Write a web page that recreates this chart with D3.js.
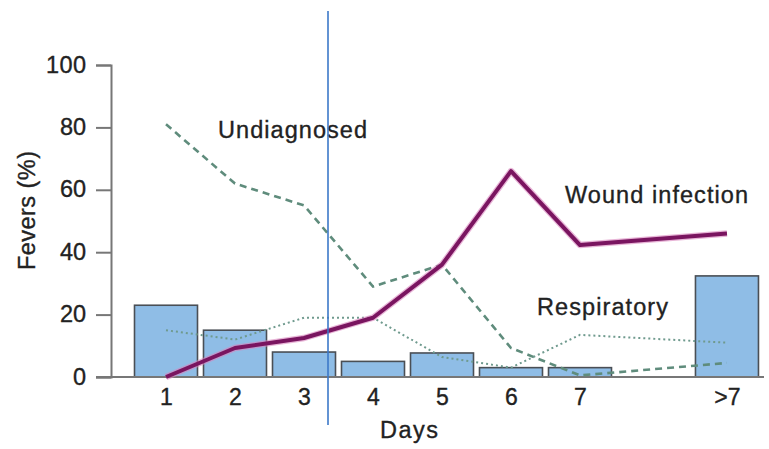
<!DOCTYPE html>
<html><head><meta charset="utf-8">
<script src="https://cdn.jsdelivr.net/npm/d3@7"></script>
<style>body{margin:0;background:#fff}svg{display:block}text{font-family:"Liberation Sans",Arial,sans-serif;fill:#222;stroke:#222;stroke-width:0.35px}</style>
</head><body><svg id="c" width="769" height="449"></svg>
<script>
const categories = ["1","2","3","4","5","6","7",">7"];
const barValues = [23, 15, 8, 5, 7.7, 3, 3, 32.4];
const woundInfection = [0, 9.3, 12.5, 19, 36, 66, 42.3, 46];
const undiagnosed = [81, 62, 55, 29, 36, 9.3, 0.5, 4.5];
const respiratory = [15, 12, 19, 19, 6.4, 3, 13.5, 11];
const yTicks = [0, 20, 40, 60, 80, 100];

const svg = d3.select("#c");
const y = d3.scaleLinear().domain([0, 100]).range([377, 65]);
const x = d3.scaleLinear().domain([1, 7]).range([166, 580]);
const pos = (c, i) => i < 7 ? i + 1 : 9.13;
const bw = 63;
const FONT = "Liberation Sans, Arial, sans-serif";

// bars
svg.append("g").selectAll("rect").data(barValues).join("rect")
  .attr("x", (d, i) => x(pos(categories[i], i)) - bw / 2)
  .attr("y", d => y(d))
  .attr("width", bw)
  .attr("height", d => y(0) - y(d))
  .attr("fill", "#8fbde6")
  .attr("stroke", "#4a4f55")
  .attr("stroke-width", 1.6);

// y axis
const ya = svg.append("g").attr("transform", "translate(111,0)")
  .call(d3.axisLeft(y).tickValues(yTicks).tickSize(15).tickPadding(10));
ya.select(".domain").attr("stroke", "#777").attr("stroke-width", 2);
ya.selectAll(".tick line").attr("stroke", "#777").attr("stroke-width", 2);
ya.selectAll(".tick text").attr("font-size", 23.5).attr("font-family", FONT).attr("fill", "#222").attr("dy", "0.3em")
  .attr("textLength", d => d === 100 ? 40 : 26).attr("lengthAdjust", "spacing");

// x baseline
svg.append("line").attr("x1", 96).attr("x2", 764).attr("y1", y(0)).attr("y2", y(0))
  .attr("stroke", "#777").attr("stroke-width", 2);

// x axis labels
const xa = svg.append("g").attr("transform", `translate(0,${y(0)})`)
  .call(d3.axisBottom(x).tickValues(categories.map(pos)).tickFormat((d, i) => categories[i]).tickSize(0).tickPadding(12));
xa.select(".domain").remove();
xa.selectAll(".tick text").attr("font-size", 23).attr("font-family", FONT).attr("fill", "#222");

const line = d3.line().x((d, i) => x(pos(categories[i], i))).y(d => y(d));

// undiagnosed dashed
svg.append("path").attr("d", line(undiagnosed)).attr("fill", "none")
  .attr("stroke", "#5f8c7c").attr("stroke-width", 2.6).attr("stroke-dasharray", "7,5");
// respiratory dotted
svg.append("path").attr("d", line(respiratory)).attr("fill", "none")
  .attr("stroke", "#6f9a8e").attr("stroke-width", 2).attr("stroke-dasharray", "2,3");
// wound infection
svg.append("path").attr("d", line(woundInfection)).attr("fill", "none")
  .attr("stroke", "#d884bd").attr("stroke-width", 6.5).attr("stroke-linejoin", "round").attr("opacity", 0.6);
svg.append("path").attr("d", line(woundInfection)).attr("fill", "none")
  .attr("stroke", "#7a1560").attr("stroke-width", 4).attr("stroke-linejoin", "round");

// labels
const lab = (t, xx, yy, len) => svg.append("text").attr("x", xx).attr("y", yy)
  .attr("font-size", 23.5).attr("textLength", len).attr("lengthAdjust", "spacing").text(t);
lab("Undiagnosed", 218, 138, 149);
lab("Wound infection", 565, 203, 183);
lab("Respiratory", 537, 315, 131);
lab("Days", 380, 438, 58);
svg.append("text").attr("transform", "translate(35,270) rotate(-90)")
  .attr("font-size", 23.5).attr("textLength", 119).attr("lengthAdjust", "spacing").text("Fevers (%)");

// vertical blue line
svg.append("line").attr("x1", 328).attr("x2", 328).attr("y1", 11).attr("y2", 425)
  .attr("stroke", "#3c78c8").attr("stroke-width", 1.6);
</script></body></html>
